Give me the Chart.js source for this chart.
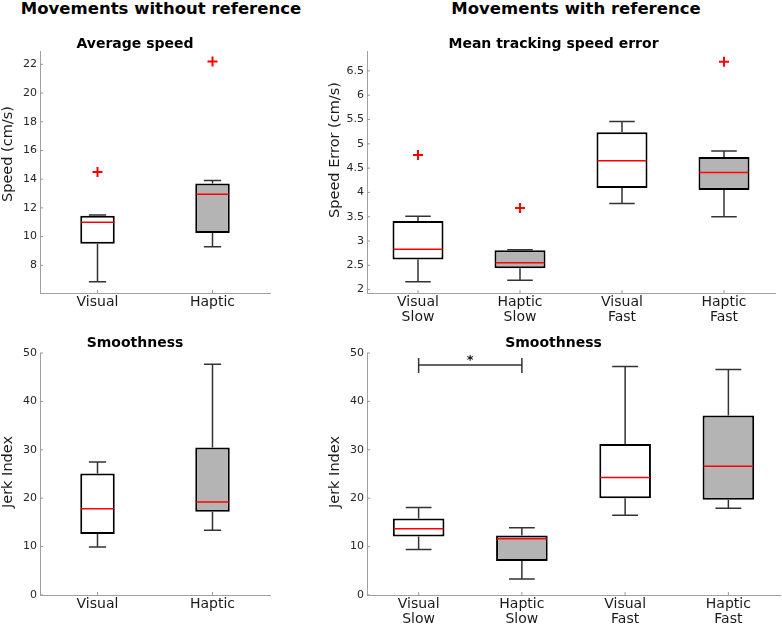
<!DOCTYPE html>
<html>
<head>
<meta charset="utf-8">
<script src="https://cdn.jsdelivr.net/npm/chart.js@4.4.1/dist/chart.umd.min.js"></script>
<style>
  body { margin: 0; background: #fff; font-family: "DejaVu Sans", sans-serif; }
  #wrap { position: relative; width: 782px; height: 625px; overflow: hidden; }
  .big { position: absolute; top: 0; font-weight: bold; font-size: 16.5px; line-height: 18px; text-align: center; color: #000; }
  canvas { position: absolute; }
</style>
</head>
<body>
<div id="wrap">
  <div class="big" style="left:0;width:322px;">Movements without reference</div>
  <div class="big" style="left:400px;width:352px;">Movements with reference</div>
  <canvas id="c1" style="left:0;top:0;width:300px;height:330px"></canvas>
  <canvas id="c2" style="left:310px;top:0;width:472px;height:330px"></canvas>
  <canvas id="c3" style="left:0;top:320px;width:300px;height:305px"></canvas>
  <canvas id="c4" style="left:310px;top:320px;width:472px;height:305px"></canvas>
</div>
<script>
// Categories
const twoLabels = ['Visual', 'Haptic'];
const fourLabels = [['Visual', 'Slow'], ['Haptic', 'Slow'], ['Visual', 'Fast'], ['Haptic', 'Fast']];
const twoFill = ['#ffffff', '#b4b4b4'];
const fourFill = ['#ffffff', '#b4b4b4', '#ffffff', '#b4b4b4'];

// Average speed (cm/s)
const speedLo = [6.85, 9.3];
const speedQ1 = [9.5, 10.25];
const speedMed = [11.0, 12.95];
const speedQ3 = [11.45, 13.7];
const speedHi = [11.5, 13.9];
const speedOut = [14.5, 22.2];
const speedTicks = [8, 10, 12, 14, 16, 18, 20, 22];

// Mean tracking speed error (cm/s)
const errLo = [2.16, 2.19, 3.77, 3.5];
const errQ1 = [2.62, 2.44, 4.09, 4.05];
const errMed = [2.83, 2.55, 4.65, 4.41];
const errQ3 = [3.41, 2.81, 5.24, 4.73];
const errHi = [3.51, 2.82, 5.46, 4.85];
const errOut = [4.77, 3.68, null, 6.69];
const errTicks = [2, 2.5, 3, 3.5, 4, 4.5, 5, 5.5, 6, 6.5];

// Smoothness, no reference (jerk index)
const jerkLo = [9.9, 13.4];
const jerkQ1 = [12.6, 17.2];
const jerkMed = [17.8, 19.2];
const jerkQ3 = [25.1, 30.5];
const jerkHi = [27.5, 47.7];

// Smoothness, with reference (jerk index)
const jerkRefLo = [9.4, 3.3, 16.5, 17.9];
const jerkRefQ1 = [12.1, 7.0, 20.0, 19.7];
const jerkRefMed = [13.7, 11.6, 24.3, 26.6];
const jerkRefQ3 = [15.8, 12.3, 31.2, 37.1];
const jerkRefHi = [18.1, 13.9, 47.2, 46.6];
const jerkTicks = [0, 10, 20, 30, 40, 50];

// significance bracket: categories, height, label
const sigFrom = 0, sigTo = 1, sigY = 47.5, sigLabel = '*';

const FONT = '"DejaVu Sans", sans-serif';

// whiskers, medians, y title and axis ticks for the box plots
const boxPlugin = {
    id: 'boxes',
    afterDatasetsDraw(chart) {
        const ctx = chart.ctx;
        const x = chart.scales.x, y = chart.scales.y;
        const ds = chart.data.datasets[0];
        const meta = chart.getDatasetMeta(0);
        const opts = chart.options.plugins.boxes;
        ctx.save();
        meta.data.forEach((bar, i) => {
            const cx = bar.x, half = bar.width / 2;
            ctx.strokeStyle = '#333';
            ctx.lineWidth = 1.5;
            ctx.beginPath();
            ctx.moveTo(cx, y.getPixelForValue(ds.hi[i]));
            ctx.lineTo(cx, y.getPixelForValue(ds.data[i][1]));
            ctx.moveTo(cx, y.getPixelForValue(ds.lo[i]));
            ctx.lineTo(cx, y.getPixelForValue(ds.data[i][0]));
            ctx.moveTo(cx - half / 2, y.getPixelForValue(ds.hi[i]));
            ctx.lineTo(cx + half / 2, y.getPixelForValue(ds.hi[i]));
            ctx.moveTo(cx - half / 2, y.getPixelForValue(ds.lo[i]));
            ctx.lineTo(cx + half / 2, y.getPixelForValue(ds.lo[i]));
            ctx.stroke();
            ctx.strokeStyle = '#ff0000';
            ctx.lineWidth = 1.5;
            ctx.beginPath();
            ctx.moveTo(cx - half + 1, y.getPixelForValue(ds.med[i]));
            ctx.lineTo(cx + half - 1, y.getPixelForValue(ds.med[i]));
            ctx.stroke();
        });
        // inward tick marks
        ctx.strokeStyle = '#999';
        ctx.lineWidth = 1;
        ctx.beginPath();
        y.ticks.forEach(t => {
            const py = y.getPixelForValue(t.value);
            ctx.moveTo(x.left, py);
            ctx.lineTo(x.left + 3, py);
        });
        chart.data.labels.forEach((l, i) => {
            const px = x.getPixelForValue(i);
            ctx.moveTo(px, y.bottom);
            ctx.lineTo(px, y.bottom - 3);
        });
        ctx.stroke();
        // y axis title
        ctx.fillStyle = '#1a1a1a';
        ctx.font = '14.5px ' + FONT;
        ctx.textAlign = 'center';
        ctx.textBaseline = 'middle';
        ctx.translate(y.left + 8, (y.top + y.bottom) / 2 + opts.yShift);
        ctx.rotate(-Math.PI / 2);
        ctx.fillText(opts.ytitle, 0, 0);
        ctx.setTransform(1, 0, 0, 1, 0, 0);
        ctx.scale(chart.currentDevicePixelRatio, chart.currentDevicePixelRatio);
        // significance bracket
        const sig = opts.sig;
        if (sig) {
            const x1 = x.getPixelForValue(sig.from), x2 = x.getPixelForValue(sig.to);
            const py = y.getPixelForValue(sig.y);
            ctx.strokeStyle = '#333';
            ctx.lineWidth = 1.5;
            ctx.beginPath();
            ctx.moveTo(x1, py); ctx.lineTo(x2, py);
            ctx.moveTo(x1, py - 7); ctx.lineTo(x1, py + 8);
            ctx.moveTo(x2, py - 7); ctx.lineTo(x2, py + 8);
            ctx.stroke();
            ctx.fillStyle = '#111';
            ctx.font = 'bold 13px ' + FONT;
            ctx.textAlign = 'center';
            ctx.textBaseline = 'middle';
            ctx.fillText(sig.label, (x1 + x2) / 2, py - 4);
        }
        ctx.restore();
    }
};

function makeBox(id, cfg) {
    const datasets = [{
        type: 'bar',
        data: cfg.q1.map((v, i) => [v, cfg.q3[i]]),
        lo: cfg.lo, hi: cfg.hi, med: cfg.med,
        backgroundColor: cfg.fill,
        borderColor: '#000',
        borderWidth: 2,
        borderSkipped: false,
        barPercentage: cfg.barPct,
        categoryPercentage: 1
    }];
    if (cfg.out) {
        datasets.push({
            type: 'line',
            data: cfg.out,
            showLine: false,
            pointStyle: 'cross',
            pointRadius: 5,
            pointBorderWidth: 2,
            borderColor: '#ff0000',
            backgroundColor: '#ff0000'
        });
    }
    return new Chart(document.getElementById(id), {
        type: 'bar',
        data: { labels: cfg.labels, datasets: datasets },
        options: {
            responsive: false,
            animation: false,
            layout: { padding: cfg.pad },
            plugins: {
                legend: { display: false },
                tooltip: { enabled: false },
                title: {
                    display: true,
                    text: cfg.title,
                    color: '#000',
                    font: { family: FONT, size: 14, weight: 'bold', lineHeight: 1 },
                    padding: cfg.titlePad
                },
                boxes: { sig: cfg.sig || null, ytitle: cfg.ytitle, yShift: cfg.yShift }
            },
            scales: {
                x: {
                    grid: { display: false, drawTicks: false },
                    border: { color: '#a0a0a0', width: 1 },
                    ticks: { color: '#1a1a1a', padding: 2, maxRotation: 0, autoSkip: false,
                        font: { family: FONT, size: 14, lineHeight: 1.05 } },
                    afterFit: s => { s.height = cfg.xh; }
                },
                y: {
                    min: cfg.min, max: cfg.max,
                    grid: { display: false, drawTicks: false },
                    border: { color: '#a0a0a0', width: 1 },
                    afterBuildTicks: s => { s.ticks = cfg.ticks.map(v => ({ value: v })); },
                    ticks: { color: '#262626', padding: 3, font: { family: FONT, size: 11 },
                        callback: v => String(v) },
                    afterFit: s => { s.width = 40; }
                }
            }
        },
        plugins: [boxPlugin]
    });
}

makeBox('c1', {
    labels: twoLabels, fill: twoFill, barPct: 0.3,
    lo: speedLo, q1: speedQ1, med: speedMed, q3: speedQ3, hi: speedHi, out: speedOut,
    min: 6.07, max: 22.93, ticks: speedTicks,
    title: 'Average speed', ytitle: 'Speed (cm/s)', yShift: -18,
    pad: { left: 0, right: 30, top: 0, bottom: 0 },
    titlePad: { top: 37, bottom: 0 }, xh: 37
});
makeBox('c2', {
    labels: fourLabels, fill: fourFill, barPct: 0.5,
    lo: errLo, q1: errQ1, med: errMed, q3: errQ3, hi: errHi, out: errOut,
    min: 1.93, max: 6.91, ticks: errTicks,
    title: 'Mean tracking speed error', ytitle: 'Speed Error (cm/s)', yShift: -22,
    pad: { left: 17, right: 2, top: 0, bottom: 0 },
    titlePad: { top: 37, bottom: 0 }, xh: 37
});
makeBox('c3', {
    labels: twoLabels, fill: twoFill, barPct: 0.3,
    lo: jerkLo, q1: jerkQ1, med: jerkMed, q3: jerkQ3, hi: jerkHi,
    min: 0, max: 50, ticks: jerkTicks,
    title: 'Smoothness', ytitle: 'Jerk Index', yShift: -2,
    pad: { left: 0, right: 30, top: 0, bottom: 0 },
    titlePad: { top: 16, bottom: 3 }, xh: 30
});
makeBox('c4', {
    labels: fourLabels, fill: fourFill, barPct: 0.5,
    lo: jerkRefLo, q1: jerkRefQ1, med: jerkRefMed, q3: jerkRefQ3, hi: jerkRefHi,
    min: 0, max: 50, ticks: jerkTicks,
    title: 'Smoothness', ytitle: 'Jerk Index', yShift: -2,
    pad: { left: 17, right: 2, top: 0, bottom: 0 },
    titlePad: { top: 16, bottom: 3 }, xh: 30,
    sig: { from: sigFrom, to: sigTo, y: sigY, label: sigLabel }
});
</script>
</body>
</html>
